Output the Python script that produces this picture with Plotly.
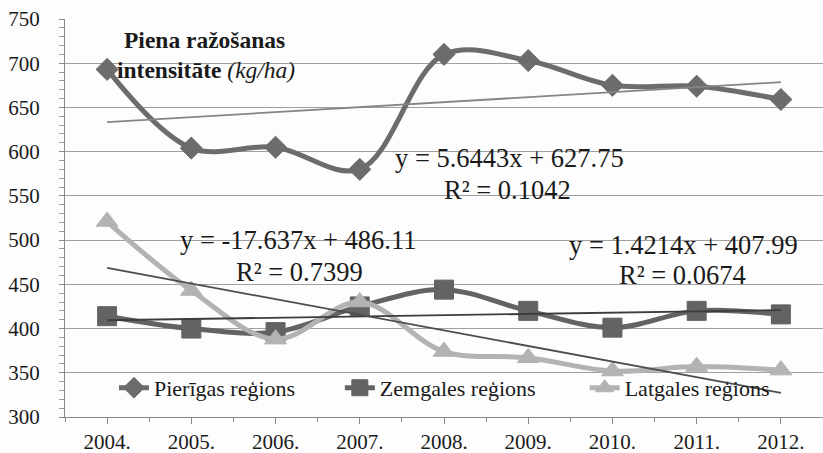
import plotly.graph_objects as go

years = ["2004.", "2005.", "2006.", "2007.", "2008.", "2009.", "2010.", "2011.", "2012."]
pierigas = [693, 604, 605, 580, 710, 703, 675, 674, 659]
zemgales = [414, 400, 396, 425, 444, 420, 401, 420, 416]
latgales = [521, 443, 388, 430, 374, 367, 352, 357, 353]

names = ["Pierīgas reģions", "Zemgales reģions", "Latgales reģions"]
# trendline coefficients (slope, intercept, R2) as printed on the chart
trend_p = (5.6443, 627.75, 0.1042)
trend_z = (1.4214, 407.99, 0.0674)
trend_l = (-17.637, 486.11, 0.7399)

FONT = "Liberation Serif, Times New Roman, DejaVu Serif, serif"
xs = list(range(len(years)))

fig = go.Figure()

series = [
    (pierigas, names[0], "#6c6c6c", "diamond", 17, "legend"),
    (zemgales, names[1], "#636363", "square", 19, "legend2"),
    (latgales, names[2], "#b3b3b3", "triangle-up", 19, "legend3"),
]
for vals, nm, col, sym, sz, lg in series:
    fig.add_trace(go.Scatter(
        x=xs, y=vals, name=nm, mode="lines+markers",
        line=dict(color=col, width=5, shape="spline", smoothing=1.0),
        marker=dict(symbol=sym, size=sz, color=col, line=dict(color=col, width=1)),
        legend=lg,
    ))

trends = [(trend_p, "#858585"), (trend_z, "#3c3c3c"), (trend_l, "#4c4c4c")]
for (a, b, r2), col in trends:
    fig.add_trace(go.Scatter(
        x=[xs[0], xs[-1]], y=[a * (xs[0] + 1) + b, a * (xs[-1] + 1) + b],
        mode="lines", line=dict(color=col, width=1.8), showlegend=False,
        hoverinfo="skip",
    ))

def eq_text(a, b):
    return f"y = {a:g}x + {b:.2f}"

ann_font = dict(family=FONT, size=26.5, color="#1a1a1a")
ann = [
    (4.78, 593, eq_text(*trend_p[:2])), (4.75, 557, f"R² = {trend_p[2]:.4f}"),
    (2.27, 500, eq_text(*trend_l[:2])), (2.28, 464, f"R² = {trend_l[2]:.4f}"),
    (6.84, 495, eq_text(*trend_z[:2])), (6.83, 461, f"R² = {trend_z[2]:.4f}"),
]
for x, y, t in ann:
    fig.add_annotation(x=x, y=y, text=t, showarrow=False, font=ann_font,
                       xanchor="center", yanchor="middle")

title_font = dict(family=FONT, size=23.5, color="#1a1a1a")
fig.add_annotation(x=1.16, y=726, text="<b>Piena ražošanas</b>", showarrow=False,
                   font=title_font, xanchor="center", yanchor="middle")
fig.add_annotation(x=1.17, y=692.5, text="<b>intensitāte</b> <i>(kg/ha)</i>", showarrow=False,
                   font=title_font, xanchor="center", yanchor="middle")

leg_common = dict(orientation="h", yanchor="middle", y=0.073, xanchor="left",
                  bgcolor="rgba(0,0,0,0)", borderwidth=0,
                  font=dict(family=FONT, size=22, color="#1a1a1a"))
fig.update_layout(
    width=823, height=453,
    margin=dict(l=65, r=0, t=19, b=36, autoexpand=False),
    paper_bgcolor="#fdfdfd", plot_bgcolor="#fdfdfd",
    font=dict(family=FONT, size=21, color="#1a1a1a"),
    legend=dict(x=0.0646, **leg_common),
    legend2=dict(x=0.3626, **leg_common),
    legend3=dict(x=0.6856, **leg_common),
    xaxis=dict(
        range=[-0.5, 8.5], tickmode="array", tickvals=xs, ticktext=years,
        showgrid=False, zeroline=False, showline=True, linecolor="#8a8a8a", linewidth=1.2,
        ticks="outside", ticklen=6, tickcolor="#8a8a8a",
        minor=dict(dtick=0.5, tick0=-0.5, ticks="outside", ticklen=4, tickcolor="#8a8a8a"),
        tickfont=dict(family=FONT, size=21, color="#1a1a1a"),
        ticklabelstandoff=0, automargin=False,
    ),
    yaxis=dict(
        range=[300, 750], dtick=50, tick0=300,
        showgrid=True, gridcolor="#a0a0a0", gridwidth=1, zeroline=False,
        showline=True, linecolor="#8a8a8a", linewidth=1.2,
        ticks="outside", ticklen=5, tickcolor="#8a8a8a",
        minor=dict(dtick=10, ticks="outside", ticklen=5, tickcolor="#9a9a9a", showgrid=False),
        tickfont=dict(family=FONT, size=21, color="#1a1a1a"),
        ticklabelstandoff=15, automargin=False,
    ),
)

fig.write_html("out.html", config={"displayModeBar": False},
               post_script="document.body.style.margin='0px';")
